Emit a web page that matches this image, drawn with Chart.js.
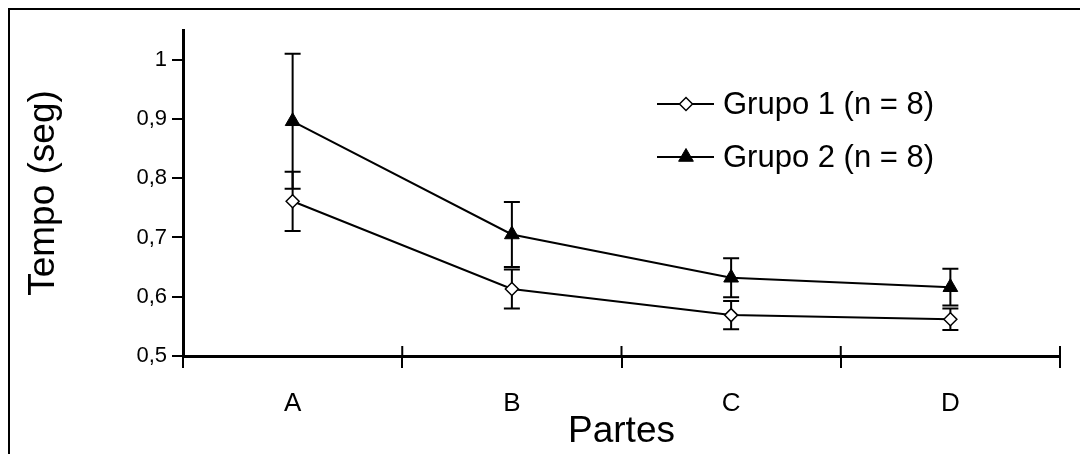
<!DOCTYPE html>
<html>
<head>
<meta charset="utf-8">
<script src="https://cdn.jsdelivr.net/npm/chart.js@4.4.1/dist/chart.umd.min.js"></script>
<style>
    html, body { margin: 0; padding: 0; background: #fff; }
</style>
</head>
<body>
<canvas id="tempoChart" width="1080" height="454"></canvas>
<script>
const partes = ["A", "B", "C", "D"];
const grupo1 = [0.761, 0.613, 0.569, 0.562];
const grupo1Sd = [0.050, 0.033, 0.024, 0.018];
const grupo2 = [0.896, 0.705, 0.632, 0.616];
const grupo2Sd = [0.114, 0.055, 0.033, 0.031];
const yTicks = [0.5, 0.6, 0.7, 0.8, 0.9, 1];
const legendLabels = ["Grupo 1 (n = 8)", "Grupo 2 (n = 8)"];

const FONT = "'Liberation Sans', Arial, sans-serif";
Chart.defaults.font.family = FONT;
Chart.defaults.color = "#000";

const fmt = v => String(+v.toFixed(1)).replace(".", ",");

// outer frame of the figure
const framePlugin = {
    id: "frame",
    beforeDraw(chart) {
        const ctx = chart.ctx;
        ctx.save();
        ctx.fillStyle = "#fff";
        ctx.fillRect(0, 0, chart.width, chart.height);
        ctx.strokeStyle = "#000";
        ctx.lineWidth = 2;
        ctx.strokeRect(9, 9, 1300, 1000);
        ctx.restore();
    }
};

// vertical error bars (mean +/- sd)
const errorBarPlugin = {
    id: "errorBars",
    beforeDatasetsDraw(chart) {
        const ctx = chart.ctx;
        const y = chart.scales.y;
        ctx.save();
        ctx.strokeStyle = "#000";
        ctx.lineWidth = 2;
        chart.data.datasets.forEach((ds, di) => {
            const meta = chart.getDatasetMeta(di);
            ds.data.forEach((v, i) => {
                const px = meta.data[i].x;
                const top = y.getPixelForValue(v + ds.sd[i]);
                const bot = y.getPixelForValue(v - ds.sd[i]);
                ctx.beginPath();
                ctx.moveTo(px, top); ctx.lineTo(px, bot);
                ctx.moveTo(px - 8, top); ctx.lineTo(px + 8, top);
                ctx.moveTo(px - 8, bot); ctx.lineTo(px + 8, bot);
                ctx.stroke();
            });
        });
        ctx.restore();
    }
};

// category boundary ticks cross the x axis, add the upper half
const crossTicksPlugin = {
    id: "crossTicks",
    afterDraw(chart) {
        const ctx = chart.ctx;
        const xs = chart.scales.x;
        const n = partes.length;
        const step = (xs.right - xs.left) / n;
        ctx.save();
        ctx.strokeStyle = "#000";
        ctx.lineWidth = 2;
        ctx.beginPath();
        for (let i = 0; i <= n; i++) {
            const px = xs.left + i * step;
            ctx.moveTo(px, xs.top - 10);
            ctx.lineTo(px, xs.top);
        }
        ctx.stroke();
        ctx.restore();
    }
};

// legend with line + marker, like the original
const legendPlugin = {
    id: "lineLegend",
    afterDraw(chart) {
        const ctx = chart.ctx;
        const rows = [104, 157];
        ctx.save();
        chart.data.datasets.forEach((ds, i) => {
            const yy = rows[i];
            ctx.strokeStyle = "#000";
            ctx.lineWidth = 2;
            ctx.beginPath();
            ctx.moveTo(657, yy);
            ctx.lineTo(714, yy);
            ctx.stroke();
            ctx.fillStyle = ds.pointBackgroundColor;
            ctx.lineWidth = ds.pointBorderWidth;
            Chart.helpers.drawPoint(ctx, {
                pointStyle: ds.pointStyle,
                radius: ds.pointRadius,
                borderWidth: ds.pointBorderWidth,
                rotation: 0
            }, 686, yy);
            ctx.fillStyle = "#000";
            ctx.font = "31px " + FONT;
            ctx.textBaseline = "middle";
            ctx.textAlign = "left";
            ctx.fillText(legendLabels[i], 723, yy + 1);
        });
        ctx.restore();
    }
};

const ctx = document.getElementById("tempoChart").getContext("2d");

const chart = new Chart(ctx, {
    type: "line",
    data: {
        labels: partes,
        datasets: [{
            label: legendLabels[0],
            data: grupo1,
            sd: grupo1Sd,
            borderColor: "#000",
            borderWidth: 2,
            pointStyle: "rectRot",
            pointRadius: 6.5,
            pointBackgroundColor: "#fff",
            pointBorderColor: "#000",
            pointBorderWidth: 1.5,
            tension: 0,
            clip: false
        }, {
            label: legendLabels[1],
            data: grupo2,
            sd: grupo2Sd,
            borderColor: "#000",
            borderWidth: 2,
            pointStyle: "triangle",
            pointRadius: 8.5,
            pointBackgroundColor: "#000",
            pointBorderColor: "#000",
            pointBorderWidth: 1,
            tension: 0,
            clip: false
        }]
    },
    options: {
        responsive: false,
        animation: false,
        layout: { padding: { left: 0, top: 30, right: 20, bottom: 0 } },
        plugins: {
            legend: { display: false },
            tooltip: { enabled: false }
        },
        scales: {
            x: {
                offset: true,
                afterFit: s => { s.height = 98; },
                border: { color: "#000", width: 3 },
                grid: {
                    offset: true,
                    drawOnChartArea: false,
                    drawTicks: true,
                    tickLength: 12,
                    color: "#000",
                    lineWidth: 2
                },
                ticks: { font: { size: 26 }, padding: 20, color: "#000" },
                title: {
                    display: true,
                    text: "Partes",
                    font: { size: 37 },
                    padding: { top: 0, bottom: 0 },
                    color: "#000"
                }
            },
            y: {
                min: 0.5,
                max: 1.05,
                afterFit: s => { s.width = 183; },
                afterBuildTicks: s => { s.ticks = yTicks.map(v => ({ value: v })); },
                border: { color: "#000", width: 3 },
                grid: {
                    drawOnChartArea: false,
                    drawTicks: true,
                    tickLength: 11,
                    color: "#000",
                    lineWidth: 2
                },
                ticks: {
                    font: { size: 22 },
                    padding: 5,
                    color: "#000",
                    callback: v => fmt(v)
                },
                title: {
                    display: true,
                    text: "Tempo (seg)",
                    font: { size: 37 },
                    padding: { top: 22, bottom: 0 },
                    color: "#000"
                }
            }
        }
    },
    plugins: [framePlugin, errorBarPlugin, crossTicksPlugin, legendPlugin]
});
</script>
</body>
</html>
